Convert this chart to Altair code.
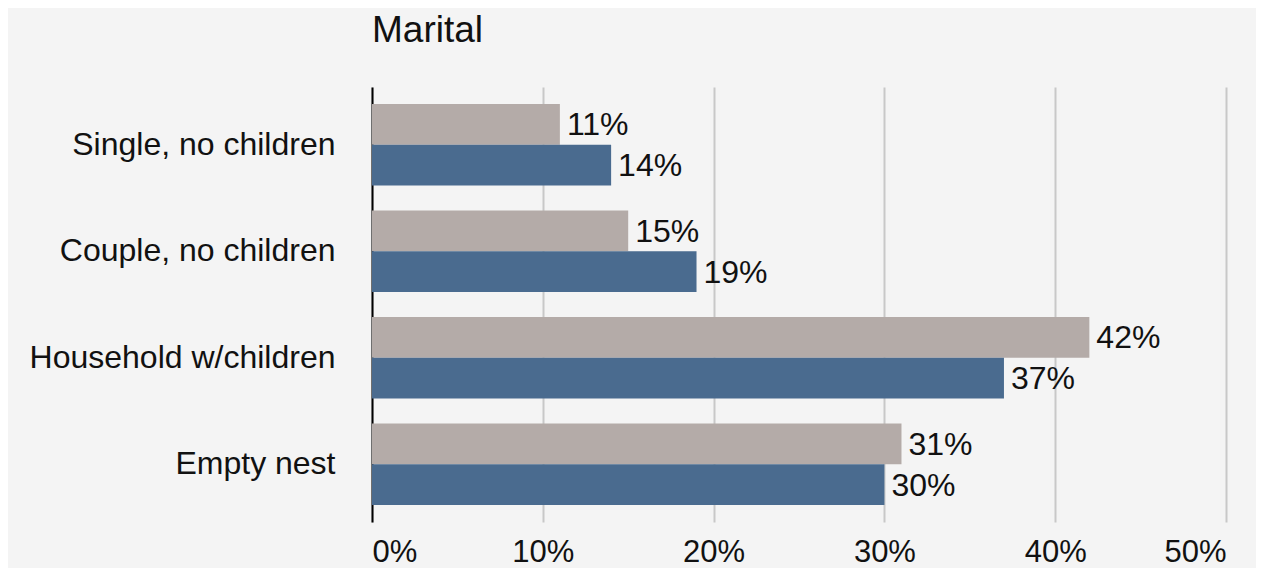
import altair as alt
import pandas as pd

categories = ["Single, no children", "Couple, no children", "Household w/children", "Empty nest"]
series = ["Comparison", "Segment"]
grey_values = [11, 15, 42, 31]
blue_values = [14, 19, 37, 30]
x_ticks = [0, 10, 20, 30, 40, 50]
colors = ["#b4aba8", "#4a6b8f"]

rows = []
for c, g, b in zip(categories, grey_values, blue_values):
    rows.append({"category": c, "series": series[0], "value": g})
    rows.append({"category": c, "series": series[1], "value": b})
df = pd.DataFrame(rows)

FONT = "Liberation Sans"
TXT = "#111111"
FS = 32

y = alt.Y(
    "category:N", sort=categories, title=None,
    scale=alt.Scale(paddingInner=0.235, paddingOuter=0.16),
    axis=alt.Axis(labelFontSize=FS, labelPadding=37, ticks=False, domain=True,
                  domainColor="#000000", domainWidth=2, grid=False,
                  labelColor=TXT, labelFont=FONT, labelLimit=600),
)
yoff = alt.YOffset("series:N", sort=series, scale=alt.Scale(paddingInner=0, paddingOuter=0))
x = alt.X(
    "value:Q", title=None, scale=alt.Scale(domain=[0, 50], nice=False),
    axis=alt.Axis(values=x_ticks, labelExpr="datum.value + '%'", ticks=False, domain=False,
                  grid=True, gridColor="#c8c8c8", gridWidth=2,
                  labelFontSize=31, labelPadding=15, labelColor=TXT, labelFont=FONT),
)
color = alt.Color("series:N", sort=series, scale=alt.Scale(domain=series, range=colors), legend=None)

base = alt.Chart(df)
bars = base.mark_bar().encode(x=x, y=y, yOffset=yoff, color=color)
labels = base.mark_text(align="left", baseline="middle", dx=7, dy=1, fontSize=FS, font=FONT, color=TXT).encode(
    x=alt.X("value:Q"), y=alt.Y("category:N", sort=categories), yOffset=alt.YOffset("series:N", sort=series),
    text=alt.Text("label:N"),
).transform_calculate(label="datum.value + '%'")

chart = alt.layer(bars, labels).properties(
    width=854, height=435,
    title=alt.TitleParams("Marital", anchor="start", frame="group", fontSize=37, fontWeight="normal",
                          offset=37, font=FONT, color=TXT),
    padding={"left": 364, "top": 79, "right": 30, "bottom": 46},
    autosize=alt.AutoSizeParams(type="none"),
    background="#f4f4f4",
).configure_view(stroke=None)

chart.save("out.html", embed_options={"renderer": "svg", "actions": False})
